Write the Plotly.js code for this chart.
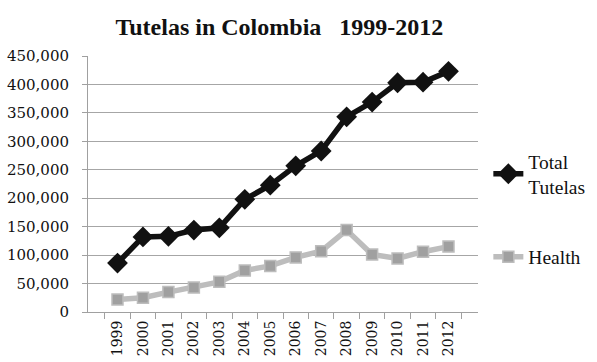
<!DOCTYPE html>
<html><head><meta charset="utf-8">
<script src="https://cdn.plot.ly/plotly-3.0.1.min.js"></script>
<style>body{margin:0;background:#fff}#c{width:597px;height:362px}</style>
</head><body><div id="c"></div>
<script>
const years = ['1999','2000','2001','2002','2003','2004','2005','2006','2007','2008','2009','2010','2011','2012'];
const totalTutelas = [86000,132000,133000,144000,148000,198000,223000,257000,283000,343000,369000,403000,404000,423000];
const health = [22000,25000,35000,43000,53000,73000,81000,96000,107000,144000,101000,94000,106000,115000];

const traces = [
  {x: years, y: totalTutelas, name: 'Total<br>Tutelas', type: 'scatter', mode: 'lines+markers',
   legendgroup: 'a',
   line: {color: '#111111', width: 5.5},
   marker: {symbol: 'diamond', size: 16, color: '#111111'}},
  {x: years, y: health, name: 'Health', type: 'scatter', mode: 'lines+markers',
   legendgroup: 'b',
   line: {color: '#bdbdbd', width: 5.5},
   marker: {symbol: 'square', size: 11, color: '#a0a0a0', line: {color: '#bdbdbd', width: 1.5}}}
];

const layout = {
  width: 597, height: 362,
  margin: {l: 88, r: 119, t: 56, b: 50},
  paper_bgcolor: '#fff', plot_bgcolor: '#fff',
  title: {text: '<b>Tutelas in Colombia   1999-2012</b>', x: 0.468, xanchor: 'center', y: 0.95,
          font: {family: "'Liberation Serif', 'Times New Roman', serif", size: 24, color: '#111'}},
  xaxis: {type: 'category', tickangle: -90, showgrid: false, showline: true, linecolor: '#a0a0a0', linewidth: 1,
          ticks: 'outside', tickson: 'boundaries', ticklen: 6, tickcolor: '#a0a0a0',
          ticklabelstandoff: 2,
          tickfont: {family: "'DejaVu Serif', serif", size: 14, color: '#111'}},
  yaxis: {range: [0, 450000], dtick: 50000, tickformat: ',d', showgrid: true, gridcolor: '#a6a6a6', gridwidth: 1,
          showline: true, linecolor: '#a0a0a0', ticks: 'outside', ticklen: 5, tickcolor: '#a0a0a0',
          zeroline: false, ticklabelstandoff: 10,
          tickfont: {family: "'DejaVu Serif', serif", size: 15, color: '#111'}},
  legend: {xref: 'container', yref: 'container', x: 0.818, xanchor: 'left', y: 0.608, yanchor: 'top',
           traceorder: 'grouped', tracegroupgap: 42,
           font: {family: "'Liberation Serif', 'Times New Roman', serif", size: 19.5, color: '#111'},
           itemwidth: 30, bgcolor: 'rgba(0,0,0,0)'},
  showlegend: true
};
Plotly.newPlot('c', traces, layout, {displayModeBar: false});
</script></body></html>
